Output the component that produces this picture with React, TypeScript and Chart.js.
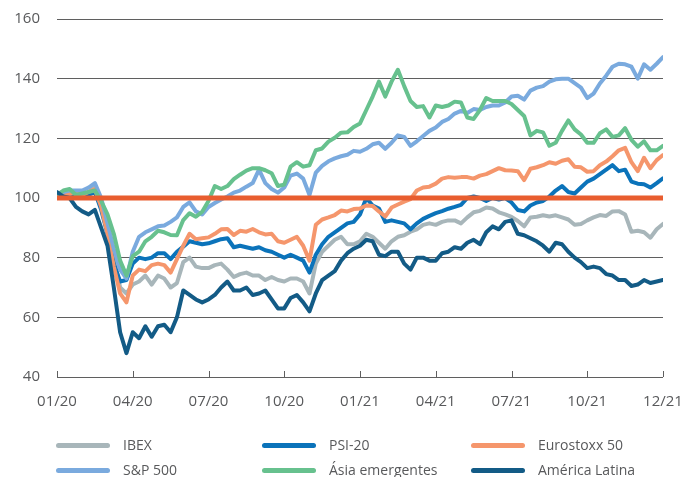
import React, { useEffect, useRef } from 'react';
import { Chart, registerables } from 'chart.js';

Chart.register(...registerables);

// x-axis: months since Jan 2020, one value every quarter month
const tickLabels = ['01/20', '04/20', '07/20', '10/20', '01/21', '04/21', '07/21', '10/21', '12/21'];
const tickMonths = [0, 3, 6, 9, 12, 15, 18, 21, 24];
const stepsPerMonth = 4;
const baseline = 100;

const seriesNames = ['IBEX', 'PSI-20', 'Eurostoxx 50', 'S&P 500', 'Ásia emergentes', 'América Latina'];

const ibex = [
  101, 102, 101, 100, 101, 102, 104, 98, 90, 80, 70, 68, 71, 72, 74, 71,
  74, 73, 70, 71.5, 78.5, 80, 77, 76.5, 76.5, 77.5, 78, 76, 73.5, 74.5, 75, 74,
  74, 72.5, 73.5, 72.5, 72, 73, 73, 72, 68, 78, 82, 84, 86, 87, 84.5, 84.5,
  85.5, 88, 87, 85, 83, 85.5, 87, 87.5, 88.7, 89.5, 91, 91.5, 91, 92, 92.5, 92.5,
  91.5, 93.5, 95.2, 95.7, 96.8, 96.5, 95.2, 94.5, 93.7, 92.3, 90.5, 93.5, 93.7, 94.2, 93.8, 94.2,
  93.5, 92.8, 91, 91.3, 92.5, 93.5, 94.3, 94, 95.5, 95.6, 94.5, 88.7, 89, 88.5, 86.7, 89.5,
  91.3,
];

const psi20 = [
  101, 100.5, 100, 100.5, 100, 101, 102, 96, 88, 78, 72, 72.5, 78, 80, 79.5, 80,
  81.5, 81.5, 79.5, 82, 83.7, 85.5, 85, 84.5, 84.8, 85.5, 86.2, 86.5, 83.5, 84, 83.5, 83,
  83.5, 82.5, 82, 81, 80, 81, 80, 79, 75, 81, 84.5, 87, 88.5, 90, 91.5, 92,
  94.5, 100, 97.5, 96.5, 92, 92.5, 92, 91.5, 89.5, 91.5, 93, 94, 94.9, 95.6, 96.4, 97,
  97.7, 100, 100.5, 100, 99, 100, 99.5, 100, 98.5, 96, 95.5, 97.5, 98.5, 99, 100.5, 102.5,
  104, 102, 101.5, 103.5, 105.5, 106.5, 108, 109.5, 111, 109, 109.5, 105.5, 104.8, 104.6, 103.5, 105,
  106.6,
];

const eurostoxx = [
  101, 101.5, 101.5, 102, 101, 102, 103, 97, 88, 77, 68, 65, 74, 76, 75.5, 77.5,
  78, 77.5, 75, 79.5, 84, 88, 86.2, 86.5, 86.8, 88, 89.5, 89.6, 87.6, 89, 88.7, 89.6,
  88.5, 87.8, 88, 85.5, 85, 86, 87, 84, 79, 91, 92.8, 93.5, 94.3, 95.8, 95.5, 96.3,
  96.5, 97.5, 97.3, 95.5, 93.8, 96.8, 97.8, 98.8, 99.6, 102.5, 103.5, 103.8, 104.8, 106.5, 107, 106.8,
  107, 107, 106.5, 107.5, 108, 109, 110, 109.3, 109.2, 109, 106, 109.8, 110.3, 111, 112, 111.5,
  112.5, 113, 110.5, 110.3, 108.8, 109, 111, 112.2, 114, 116, 116.8, 112, 109, 113.5, 110, 112.7,
  114.4,
];

const sp500 = [
  101, 102, 102.5, 102.5, 102.5, 103.5, 105, 100, 91.5, 83, 76, 73, 82, 87, 88.5, 89.5,
  90.5, 90.8, 92, 93.5, 97, 98.5, 95.5, 94.5, 97, 98.3, 99.5, 100.5, 101.8, 102.5, 103.8, 105,
  109.5, 105, 103, 101.8, 103.5, 107.5, 108.2, 106.5, 101, 108.5, 110.8, 112.3, 113.3, 114, 114.5, 115.8,
  115.5, 116.5, 118, 118.5, 116.5, 118.5, 121, 120.5, 117.5, 119, 120.8, 122.5, 123.6, 125.5, 126.5, 128.3,
  129.2, 128.5, 129.8, 129.5, 130.5, 131, 131, 132, 134, 134.3, 133, 136, 137, 137.5, 139, 139.8,
  140, 140, 138.5, 137, 133.5, 135, 138.4, 141, 144, 145, 144.8, 144, 140, 144.8, 143, 145,
  147.2,
];

const asia = [
  101, 102.5, 103, 101, 101.5, 102, 102.5, 99, 94.5, 88, 79, 74, 80.5, 82, 85.5, 87,
  89, 88.5, 87.6, 87.5, 92.6, 94.9, 93.7, 95.4, 99, 104, 103, 104, 106.3, 107.8, 109.2, 110,
  110, 109.3, 108.3, 104, 104.5, 110.5, 112, 110.5, 111, 116, 116.6, 118.9, 120.2, 121.9, 122, 123.8,
  125, 129.5, 134, 139, 134, 139, 143, 137.5, 132.5, 130.5, 130.8, 127, 131, 130.5, 131, 132.3,
  132, 127, 126.5, 129.5, 133.5, 132.5, 132.5, 132.5, 131.5, 129.5, 127.5, 121, 122.5, 122, 117.5, 118.5,
  122.5, 126, 123, 121.3, 118.5, 118.5, 121.7, 123, 120.5, 121, 123.4, 119.5, 117.2, 119, 116, 116,
  117.5,
];

const latam = [
  102, 100.5, 100, 97, 95.5, 94.5, 96, 90, 84, 70, 55, 48, 55, 53, 57, 53.5,
  57, 57.5, 55, 60, 69, 67.5, 66, 65, 66, 67.5, 70, 72, 69, 69, 70, 67.5,
  68, 69, 66, 63, 63, 66.5, 67.5, 65, 62, 68, 72.5, 74, 75.5, 79, 81.5, 83,
  84, 86, 85.5, 81, 80.5, 82, 82, 78, 76, 80, 80, 79, 79, 81.5, 82, 83.5,
  83, 85, 86, 84.5, 88.5, 90.5, 89.5, 92, 92.5, 88, 87.5, 86.5, 85.5, 84, 82, 85,
  84.5, 82, 80, 78.5, 76.5, 77, 76.5, 74.5, 74, 72.5, 72.5, 70.5, 71, 72.5, 71.5, 72,
  72.5,
];

const seriesValues = [ibex, psi20, eurostoxx, sp500, asia, latam];
const seriesColors = ['#a8b6ba', '#0b73ba', '#f5966c', '#7aaade', '#67c18e', '#135b86'];
const baselineColor = '#e85d2f';
const gridColor = '#5f5f5f';
const textColor = '#58595b';
const fontFamily = '"Open Sans", "DejaVu Sans", sans-serif';

const legendCols = [56, 262, 471];
const legendRows = [445, 470];

export default function App() {
  const canvasRef = useRef<HTMLCanvasElement | null>(null);

  useEffect(() => {
    const canvas = canvasRef.current;
    if (!canvas) return;

    const toPoints = (arr: number[]) => arr.map((y, i) => ({ x: i / stepsPerMonth, y }));
    const lastMonth = tickMonths[tickMonths.length - 1];

    const datasets: any[] = seriesValues.map((vals, i) => ({
      label: seriesNames[i],
      data: toPoints(vals),
      borderColor: seriesColors[i],
      backgroundColor: seriesColors[i],
      borderWidth: 4,
      pointRadius: 0,
      tension: 0,
      fill: false,
      borderJoinStyle: 'round',
      borderCapStyle: 'round',
      order: seriesValues.length - i,
    }));
    datasets.push({
      label: 'base',
      data: [{ x: 0, y: baseline }, { x: lastMonth, y: baseline }],
      borderColor: baselineColor,
      borderWidth: 5,
      pointRadius: 0,
      fill: false,
      order: 0,
    });

    const tickMarks = {
      id: 'tickMarks',
      beforeDatasetsDraw(chart: any) {
        const { ctx, chartArea } = chart;
        const xs = chart.scales.x;
        ctx.save();
        ctx.strokeStyle = gridColor;
        ctx.lineWidth = 1;
        tickMonths.forEach((m) => {
          const px = Math.round(xs.getPixelForValue(m)) + 0.5;
          ctx.beginPath();
          ctx.moveTo(px, chartArea.bottom - 6);
          ctx.lineTo(px, chartArea.bottom);
          ctx.stroke();
        });
        ctx.restore();
      },
    };

    const chart = new Chart(canvas, {
      type: 'line',
      data: { datasets },
      plugins: [tickMarks],
      options: {
        animation: false,
        responsive: false,
        maintainAspectRatio: false,
        layout: { padding: { left: 0, right: 25, top: 19, bottom: 60 } },
        plugins: { legend: { display: false }, tooltip: { enabled: false } },
        scales: {
          x: {
            type: 'linear',
            min: 0,
            max: lastMonth,
            afterFit: (scale: any) => {
              scale.height = 40;
              scale.paddingLeft = 0;
              scale.paddingRight = 0;
              scale.paddingTop = 0;
              scale.paddingBottom = 0;
            },
            afterBuildTicks: (scale: any) => { scale.ticks = tickMonths.map((v) => ({ value: v })); },
            ticks: {
              autoSkip: false,
              maxRotation: 0,
              padding: 8,
              color: textColor,
              font: { family: fontFamily, size: 15 },
              callback: (v: any) => tickLabels[tickMonths.indexOf(Number(v))] ?? '',
            },
            grid: { display: false },
            border: { display: false },
          },
          y: {
            min: 40,
            max: 160,
            afterFit: (scale: any) => {
              scale.width = 57;
              scale.paddingLeft = 0;
              scale.paddingRight = 0;
              scale.paddingTop = 0;
              scale.paddingBottom = 0;
            },
            ticks: {
              stepSize: 20,
              padding: 17,
              color: textColor,
              font: { family: fontFamily, size: 15 },
            },
            grid: { color: gridColor, lineWidth: 1, drawTicks: false },
            border: { display: false },
          },
        },
      },
    });
    return () => chart.destroy();
  }, []);

  const legendOrder = [0, 1, 2, 3, 4, 5];

  return (
    <div style={{ position: 'absolute', left: 0, top: 0, width: 688, height: 477, background: '#fff' }}>
      <canvas ref={canvasRef} width={688} height={477} style={{ display: 'block', width: 688, height: 477 }} />
      {legendOrder.map((i) => {
        const col = i % 3;
        const row = Math.floor(i / 3);
        const x = legendCols[col];
        const y = legendRows[row];
        return (
          <div key={i} style={{ position: 'absolute', left: x, top: y - 10, height: 20, display: 'flex', alignItems: 'center' }}>
            <div style={{ width: 54, height: 5, borderRadius: 3, background: seriesColors[i] }} />
            <span style={{ marginLeft: 13, fontFamily, fontSize: 14, color: textColor, whiteSpace: 'nowrap', lineHeight: '20px' }}>
              {seriesNames[i]}
            </span>
          </div>
        );
      })}
    </div>
  );
}
